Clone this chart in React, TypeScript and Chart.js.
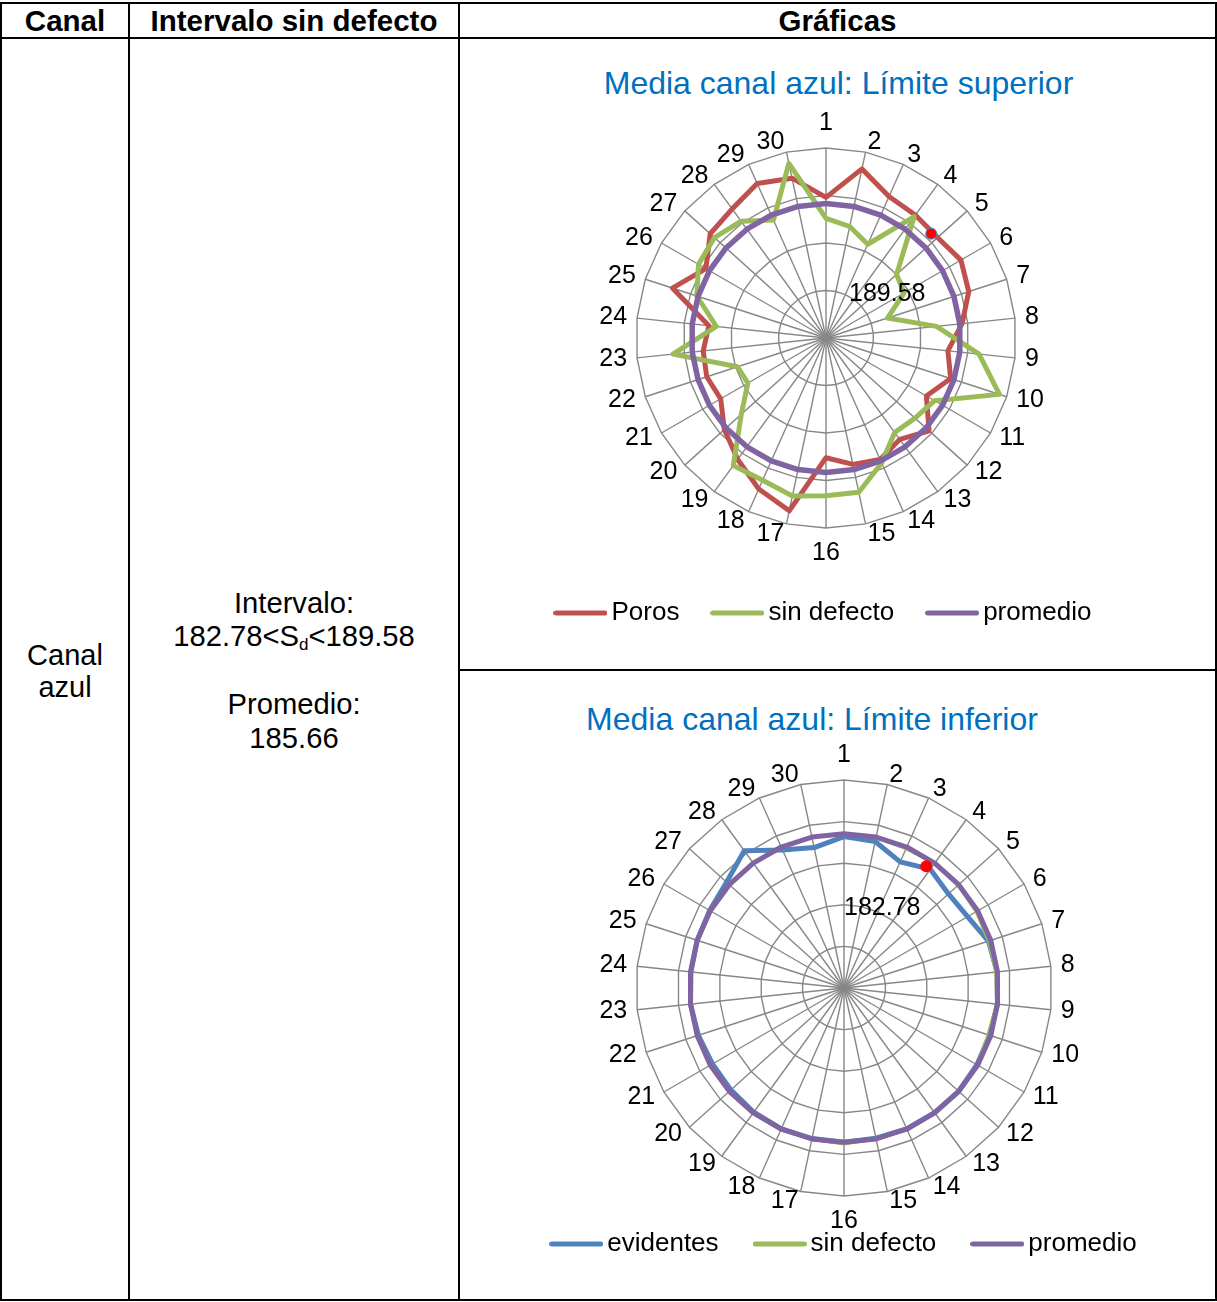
import React, { useEffect, useRef } from "react";
import { Chart, registerables } from "chart.js";

Chart.register(...registerables);

const FONT = '"Liberation Sans", Arial, Helvetica, sans-serif';
const GRID = "#878787";

// ---------- data ----------
const spokeLabels = [
  "1", "2", "3", "4", "5", "6", "7", "8", "9", "10",
  "11", "12", "13", "14", "15", "16", "17", "18", "19", "20",
  "21", "22", "23", "24", "25", "26", "27", "28", "29", "30",
];

// Chart 1: Media canal azul: Límite superior
const supPoros = [
  186.3, 189.7, 187.8, 187.5, 187.3, 187.9, 187.3, 185.9, 184.4, 185.3,
  183.7, 186.1, 184.7, 185.5, 185.1, 184.1, 190.1, 188.9, 187.3, 185.9,
  184.3, 184.7, 184.5, 183.9, 188.5, 186.1, 187.9, 188.3, 189.3, 188.7,
];
const supSinDefecto = [
  184.1, 183.5, 182.3, 187.3, 181.5, 181.0, 178.3, 183.2, 187.7, 190.7,
  184.7, 184.1, 183.8, 185.9, 188.1, 188.1, 188.5, 187.9, 188.1, 183.5,
  181.0, 181.3, 187.7, 183.1, 185.8, 187.0, 187.3, 186.7, 185.1, 190.3,
];
const supPromedio = [
  185.66, 185.66, 185.66, 185.66, 185.66, 185.66, 185.66, 185.66, 185.66, 185.66,
  185.66, 185.66, 185.66, 185.66, 185.66, 185.66, 185.66, 185.66, 185.66, 185.66,
  185.66, 185.66, 185.66, 185.66, 185.66, 185.66, 185.66, 185.66, 185.66, 185.66,
];
const supScaleRange = [171.5, 191.5, 5]; // min, max, step
const supMarkerIndex = 3.77;
const supMarkerValue = 187.1;
const supMarkerText = "189.58";

// Chart 2: Media canal azul: Límite inferior
const infEvidentes = [
  185.59, 185.55, 185.27, 185.48, 185.33, 185.38, 185.6, 185.65, 185.66, 185.63,
  185.64, 185.66, 185.65, 185.66, 185.64, 185.66, 185.65, 185.66, 185.64, 185.61,
  185.6, 185.63, 185.66, 185.65, 185.66, 185.68, 185.75, 186.03, 185.58, 185.4,
];
const infSinDefecto = [
  185.64, 185.62, 185.6, 185.63, 185.62, 185.6, 185.58, 185.6, 185.62, 185.57,
  185.63, 185.66, 185.67, 185.66, 185.68, 185.72, 185.69, 185.66, 185.65, 185.64,
  185.62, 185.63, 185.65, 185.66, 185.67, 185.66, 185.68, 185.7, 185.69, 185.66,
];
const infPromedio = [
  185.66, 185.66, 185.66, 185.66, 185.66, 185.66, 185.66, 185.66, 185.66, 185.66,
  185.66, 185.66, 185.66, 185.66, 185.66, 185.66, 185.66, 185.66, 185.66, 185.66,
  185.66, 185.66, 185.66, 185.66, 185.66, 185.66, 185.66, 185.66, 185.66, 185.66,
];
const infScaleRange = [181.95, 186.95, 1];
const infMarkerIndex = 2.84;
const infMarkerValue = 185.48;
const infMarkerText = "182.78";

// ---------- helpers ----------
function legendLine(color: string) {
  const c = document.createElement("canvas");
  c.width = 54;
  c.height = 8;
  const g = c.getContext("2d")!;
  g.strokeStyle = color;
  g.lineWidth = 5;
  g.lineCap = "round";
  g.beginPath();
  g.moveTo(2.5, 4);
  g.lineTo(51.5, 4);
  g.stroke();
  return c;
}

const overlayPlugin = {
  id: "overlay",
  afterDatasetsDraw(chart: any, _args: any, opts: any) {
    const s = chart.scales.r;
    const ctx = chart.ctx;
    const n = chart.data.labels.length;
    ctx.save();
    ctx.font = `25px ${FONT}`;
    ctx.fillStyle = "#000";
    ctx.textBaseline = "middle";
    chart.data.labels.forEach((lab: string, i: number) => {
      const p = s.getPointPosition(i, s.drawingArea + opts.labelPad);
      let y = p.y;
      if (i === 0) {
        ctx.textAlign = "center";
        y -= 15;
      } else if (i * 2 === n) {
        ctx.textAlign = "center";
        y += 15;
      } else if (i < n / 2) {
        ctx.textAlign = "left";
      } else {
        ctx.textAlign = "right";
      }
      ctx.fillText(String(lab), p.x, y);
    });
    const mp = s.getPointPositionForValue(opts.markerIndex, opts.markerValue);
    ctx.beginPath();
    ctx.arc(mp.x, mp.y, opts.markerRadius, 0, Math.PI * 2);
    ctx.fillStyle = "#FF0000";
    ctx.fill();
    if (opts.markerBorder) {
      ctx.lineWidth = 1;
      ctx.strokeStyle = opts.markerBorder;
      ctx.stroke();
    }
    ctx.font = `25px ${FONT}`;
    ctx.fillStyle = "#000";
    ctx.textAlign = "center";
    ctx.textBaseline = "middle";
    ctx.fillText(opts.markerText, mp.x + opts.textDx, mp.y + opts.textDy);
    ctx.restore();
  },
};

type Series = { label: string; data: number[]; color: string; width: number; order: number };

function RadarPanel(props: {
  series: Series[];
  range: number[];
  markerIndex: number;
  markerValue: number;
  markerText: string;
  markerBorder?: string;
  markerRadius: number;
  textDx: number;
  textDy: number;
  left: number;
  top: number;
  width: number;
  height: number;
  cx: number;
  cy: number;
  r: number;
  padding: any;
  legendPadding: number;
}) {
  const ref = useRef<HTMLCanvasElement | null>(null);
  useEffect(() => {
    if (!ref.current) return;
    const images = props.series.map((s) => legendLine(s.color));
    const chart = new Chart(ref.current, {
      type: "radar",
      data: {
        labels: spokeLabels,
        datasets: props.series.map((s) => ({
          label: s.label,
          data: s.data,
          borderColor: s.color,
          backgroundColor: s.color,
          borderWidth: s.width,
          pointRadius: 0,
          pointHoverRadius: 0,
          fill: false,
          tension: 0,
          borderJoinStyle: "round",
          borderCapStyle: "round",
          order: s.order,
          clip: false,
        })) as any,
      },
      options: {
        responsive: false,
        animation: false,
        devicePixelRatio: 1,
        events: [],
        layout: { padding: props.padding },
        scales: {
          r: {
            min: props.range[0],
            max: props.range[1],
            ticks: { display: false, stepSize: props.range[2] },
            grid: { color: GRID, lineWidth: 1.4, circular: false },
            angleLines: { display: true, color: GRID, lineWidth: 1.4 },
            pointLabels: { display: false },
            afterFit: (sc: any) => {
              sc.xCenter = props.cx;
              sc.yCenter = props.cy;
              sc.drawingArea = props.r;
            },
          } as any,
        },
        plugins: {
          title: { display: false },
          tooltip: { enabled: false },
          legend: {
            position: "bottom",
            labels: {
              usePointStyle: true,
              pointStyleWidth: 36,
              padding: props.legendPadding,
              color: "#000",
              font: { size: 26, family: FONT },
              generateLabels: (ch: any) =>
                ch.data.datasets.map((ds: any, i: number) => ({
                  text: ds.label,
                  fillStyle: ds.borderColor,
                  strokeStyle: ds.borderColor,
                  lineWidth: 0,
                  pointStyle: images[i],
                  hidden: false,
                  datasetIndex: i,
                  fontColor: "#000",
                })),
            },
          },
          overlay: {
            labelPad: 10,
            markerIndex: props.markerIndex,
            markerValue: props.markerValue,
            markerText: props.markerText,
            markerBorder: props.markerBorder,
            markerRadius: props.markerRadius,
            textDx: props.textDx,
            textDy: props.textDy,
          },
        } as any,
      },
      plugins: [overlayPlugin as any],
    });
    return () => chart.destroy();
  }, []);
  return (
    <canvas
      ref={ref}
      width={props.width}
      height={props.height}
      style={{ position: "absolute", left: props.left, top: props.top, width: props.width, height: props.height }}
    />
  );
}

function Line(p: { x: number; y: number; w: number; h: number }) {
  return <div style={{ position: "absolute", left: p.x, top: p.y, width: p.w, height: p.h, background: "#000" }} />;
}

export default function App() {
  useEffect(() => {
    document.body.style.margin = "0";
  }, []);
  const headStyle: React.CSSProperties = {
    position: "absolute",
    top: 4,
    height: 33,
    display: "flex",
    alignItems: "center",
    justifyContent: "center",
    fontWeight: "bold",
    fontSize: 29.5,
    whiteSpace: "nowrap",
  };
  return (
    <div
      style={{
        position: "absolute",
        left: 0,
        top: 0,
        width: 1217,
        height: 1302,
        background: "#fff",
        fontFamily: FONT,
        color: "#000",
        overflow: "hidden",
      }}
    >
      <Line x={0} y={2} w={1217} h={2} />
      <Line x={0} y={37} w={1217} h={2} />
      <Line x={0} y={1299} w={1217} h={2} />
      <Line x={0} y={2} w={2} h={1299} />
      <Line x={1215} y={2} w={2} h={1299} />
      <Line x={128} y={2} w={2} h={1299} />
      <Line x={458} y={2} w={2} h={1299} />
      <Line x={458} y={669} w={759} h={2} />

      <div style={{ ...headStyle, left: 2, width: 126 }}>Canal</div>
      <div style={{ ...headStyle, left: 130, width: 328 }}>Intervalo sin defecto</div>
      <div style={{ ...headStyle, left: 460, width: 755 }}>Gráficas</div>

      <div
        style={{
          position: "absolute",
          left: 2,
          width: 126,
          top: 41,
          height: 1260,
          display: "flex",
          alignItems: "center",
          justifyContent: "center",
          textAlign: "center",
          fontSize: 29,
          lineHeight: "32px",
        }}
      >
        <div>
          Canal
          <br />
          azul
        </div>
      </div>

      <div
        style={{
          position: "absolute",
          left: 130,
          width: 328,
          top: 41,
          height: 1260,
          display: "flex",
          alignItems: "center",
          justifyContent: "center",
          textAlign: "center",
          fontSize: 29.2,
          lineHeight: "33.75px",
        }}
      >
        <div>
          <div>Intervalo:</div>
          <div>
            182.78&lt;S
            <span style={{ fontSize: 17, verticalAlign: "-4px", lineHeight: 0 }}>d</span>
            &lt;189.58
          </div>
          <div>&nbsp;</div>
          <div>Promedio:</div>
          <div>185.66</div>
        </div>
      </div>

      <div
        style={{
          position: "absolute",
          left: 488,
          width: 701,
          top: 64,
          fontSize: 32,
          lineHeight: "38px",
          textAlign: "center",
          color: "#0070C0",
          whiteSpace: "nowrap",
        }}
      >
        Media canal azul: Límite superior
      </div>
      <div
        style={{
          position: "absolute",
          left: 462,
          width: 700,
          top: 700,
          fontSize: 32,
          lineHeight: "38px",
          textAlign: "center",
          color: "#0070C0",
          whiteSpace: "nowrap",
        }}
      >
        Media canal azul: Límite inferior
      </div>

      <RadarPanel
        series={[
          { label: "Poros", data: supPoros, color: "#C0504D", width: 5, order: 2 },
          { label: "sin defecto", data: supSinDefecto, color: "#9BBB59", width: 5, order: 1 },
          { label: "promedio", data: supPromedio, color: "#8064A2", width: 5.5, order: 0 },
        ]}
        range={supScaleRange}
        markerIndex={supMarkerIndex}
        markerValue={supMarkerValue}
        markerText={supMarkerText}
        markerBorder="#4F81BD"
        markerRadius={5.5}
        textDx={-44}
        textDy={60}
        left={461}
        top={40}
        width={754}
        height={628}
        cx={365}
        cy={298}
        r={190}
        padding={{ left: 0, right: 22, top: 0, bottom: 32 }}
        legendPadding={40}
      />
      <RadarPanel
        series={[
          { label: "evidentes", data: infEvidentes, color: "#4F81BD", width: 5, order: 2 },
          { label: "sin defecto", data: infSinDefecto, color: "#9BBB59", width: 1.5, order: 1 },
          { label: "promedio", data: infPromedio, color: "#8064A2", width: 5, order: 0 },
        ]}
        range={infScaleRange}
        markerIndex={infMarkerIndex}
        markerValue={infMarkerValue}
        markerText={infMarkerText}
        markerRadius={6}
        textDx={-44}
        textDy={42}
        left={461}
        top={672}
        width={754}
        height={626}
        cx={383}
        cy={316}
        r={208}
        padding={{ left: 19, right: 0, top: 0, bottom: 31 }}
        legendPadding={43}
      />
    </div>
  );
}
